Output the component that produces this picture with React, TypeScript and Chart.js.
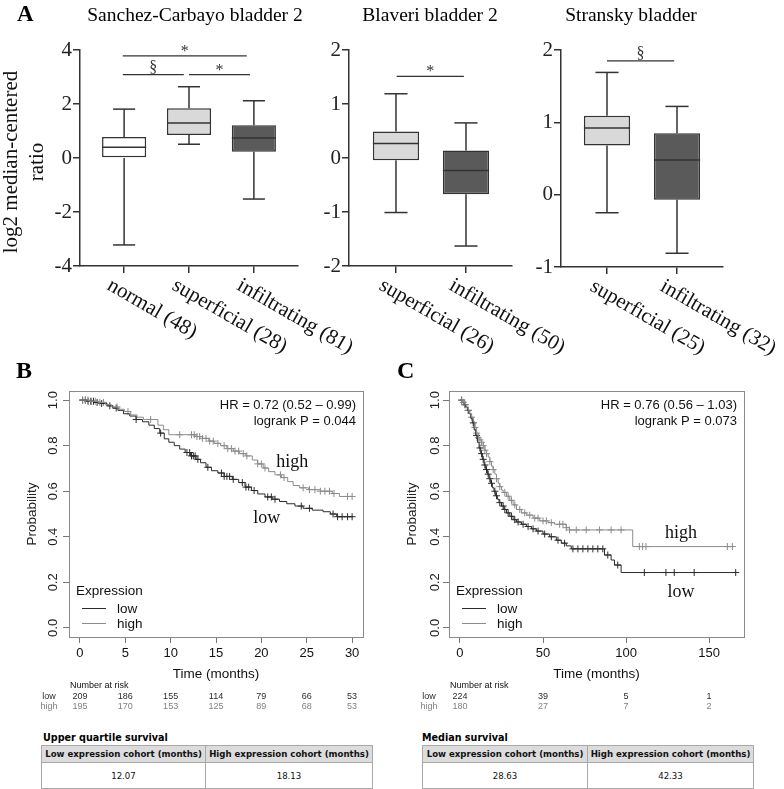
import React, { useEffect, useRef } from 'react';
import { Chart, registerables } from 'chart.js';
Chart.register(...registerables);

const SERIF = '"Liberation Serif", "Times New Roman", serif';
const SANS = '"Liberation Sans", Arial, sans-serif';
const VERD = '"DejaVu Sans", Verdana, sans-serif';

// ---------------- Panel A data ----------------
const sanchezCats = ['normal (48)', 'superficial (28)', 'infiltrating (81)'];
const sanchezMin = [-3.22, 0.51, -1.52];
const sanchezQ1 = [0.0, 0.85, 0.23];
const sanchezMed = [0.4, 1.3, 0.74];
const sanchezQ3 = [0.78, 1.84, 1.21];
const sanchezMax = [1.81, 2.64, 2.12];

const blaveriCats = ['superficial (26)', 'infiltrating (50)'];
const blaveriMin = [-1.01, -1.63];
const blaveriQ1 = [-0.04, -0.67];
const blaveriMed = [0.27, -0.23];
const blaveriQ3 = [0.49, 0.14];
const blaveriMax = [1.19, 0.65];

const stranskyCats = ['superficial (25)', 'infiltrating (32)'];
const stranskyMin = [-0.25, -0.81];
const stranskyQ1 = [0.68, -0.07];
const stranskyMed = [0.92, 0.48];
const stranskyQ3 = [1.09, 0.85];
const stranskyMax = [1.69, 1.22];

type Sig = { from: number; to: number; y: number; label: string };
const sanchezSig: Sig[] = [
  { from: -0.02, to: 1.89, y: 3.78, label: '*' },
  { from: -0.02, to: 0.92, y: 3.09, label: '§' },
  { from: 1.0, to: 1.94, y: 3.09, label: '*' },
];
const blaveriSig: Sig[] = [{ from: 0.01, to: 0.97, y: 1.51, label: '*' }];
const stranskySig: Sig[] = [{ from: 0.0, to: 0.96, y: 1.85, label: '§' }];

// ---------------- Panel B data ----------------
const kmBTicksX = [0, 5, 10, 15, 20, 25, 30];
const kmTicksY = [0, 0.2, 0.4, 0.6, 0.8, 1.0];
const kmBLowT = [0, 0.8, 1.6, 2.3, 3.0, 3.6, 4.2, 4.8, 5.5, 6.2, 6.9, 7.6, 8.2, 8.8, 9.3, 9.8, 10.4, 11.0, 11.6, 12.2, 12.8, 13.3, 13.9, 14.5, 15.2, 15.9, 16.8, 17.5, 18.2, 18.9, 19.6, 20.4, 21.2, 22.0, 22.8, 23.7, 24.6, 25.6, 26.8, 27.6, 28.3, 30.1];
const kmBLowS = [1.0, 0.995, 0.99, 0.985, 0.975, 0.965, 0.955, 0.94, 0.93, 0.915, 0.905, 0.89, 0.875, 0.855, 0.83, 0.815, 0.8, 0.785, 0.77, 0.755, 0.74, 0.725, 0.705, 0.69, 0.68, 0.665, 0.652, 0.638, 0.618, 0.603, 0.588, 0.575, 0.565, 0.555, 0.545, 0.535, 0.525, 0.517, 0.51, 0.5, 0.488, 0.488];
const kmBHighT = [0, 1.0, 2.0, 2.8, 3.5, 4.2, 4.9, 5.6, 6.3, 7.0, 8.6, 9.2, 9.8, 12.8, 13.5, 14.2, 14.8, 15.5, 16.2, 16.9, 17.6, 18.3, 19.0, 19.6, 20.2, 20.8, 21.5, 22.2, 22.9, 23.5, 24.2, 25.2, 26.5, 27.8, 28.6, 30.1];
const kmBHighS = [1.0, 0.995, 0.99, 0.98, 0.97, 0.96, 0.95, 0.935, 0.925, 0.915, 0.89, 0.87, 0.848, 0.84, 0.832, 0.82, 0.81, 0.8, 0.787, 0.776, 0.765, 0.755, 0.737, 0.72, 0.702, 0.686, 0.672, 0.66, 0.642, 0.625, 0.615, 0.607, 0.6, 0.59, 0.577, 0.577];
const kmBLowCens = [0.3, 0.6, 0.9, 1.2, 1.5, 1.9, 2.4, 3.3, 4.0, 6.2, 8.9, 11.8, 12.1, 12.3, 12.5, 12.7, 13.0, 14.1, 15.6, 15.9, 16.2, 16.5, 16.9, 17.9, 18.3, 18.6, 19.2, 20.7, 21.1, 21.5, 24.4, 25.3, 27.9, 28.4, 28.9, 29.5, 30.0];
const kmBHighCens = [0.3, 0.6, 0.9, 1.3, 1.7, 2.2, 2.6, 4.1, 5.3, 7.8, 11.0, 12.3, 12.6, 12.9, 13.2, 13.5, 13.9, 14.3, 14.7, 15.2, 15.9, 16.3, 16.7, 17.1, 17.5, 18.0, 18.4, 19.6, 20.0, 20.4, 22.1, 22.5, 24.6, 25.3, 25.9, 26.5, 27.0, 27.5, 28.0, 29.5, 30.0];
const kmBRiskLow = [209, 186, 155, 114, 79, 66, 53];
const kmBRiskHigh = [195, 170, 153, 125, 89, 68, 53];

// ---------------- Panel C data ----------------
const kmCTicksX = [0, 50, 100, 150];
const kmCLowT = [0, 1.5, 2.5, 3.5, 4.5, 5.5, 6.5, 7.5, 8.5, 9.5, 10.5, 11.5, 12.5, 13.5, 14.5, 15.5, 16.5, 17.5, 18.5, 19.5, 20.5, 21.5, 22.5, 23.5, 25, 26.5, 28, 30, 32, 34, 37, 40, 43, 46, 50, 54, 58, 61, 64, 67, 87, 91, 93, 97, 166];
const kmCLowS = [1.0, 0.99, 0.98, 0.97, 0.955, 0.94, 0.92, 0.9, 0.87, 0.845, 0.815, 0.79, 0.765, 0.74, 0.715, 0.695, 0.675, 0.655, 0.635, 0.615, 0.6, 0.58, 0.565, 0.55, 0.535, 0.52, 0.505, 0.49, 0.475, 0.465, 0.455, 0.445, 0.435, 0.425, 0.412, 0.4, 0.385, 0.372, 0.36, 0.347, 0.32, 0.298, 0.276, 0.243, 0.243];
const kmCHighT = [0, 1.5, 3, 4, 5, 6, 7, 8, 9, 10, 11, 12, 13, 14, 15, 16, 17, 18, 19, 20, 21, 22, 23, 24, 25, 26, 28, 30, 32, 34, 37, 40, 44, 48, 53, 57, 64, 66, 104, 165];
const kmCHighS = [1.0, 0.99, 0.98, 0.965, 0.955, 0.94, 0.925, 0.905, 0.88, 0.855, 0.835, 0.825, 0.815, 0.8, 0.78, 0.765, 0.75, 0.73, 0.71, 0.695, 0.675, 0.655, 0.635, 0.62, 0.605, 0.595, 0.578, 0.56, 0.54, 0.52, 0.505, 0.495, 0.482, 0.47, 0.462, 0.455, 0.44, 0.43, 0.357, 0.357];
const kmCLowCens = [1, 3, 5, 8, 10, 12, 13, 14, 15, 16, 17, 18, 19, 21, 22, 24, 26, 27, 29, 31, 33, 35, 38, 41, 44, 47, 51, 55, 59, 63, 68, 71, 74, 77, 80, 83, 86, 89, 95, 111, 124, 129, 141, 166];
const kmCHighCens = [1, 2, 3, 5, 7, 9, 10, 11, 12, 13, 14, 15, 16, 18, 20, 22, 24, 27, 29, 31, 33, 36, 39, 42, 45, 47, 50, 52, 55, 60, 62, 64, 66, 70, 76, 84, 91, 97, 108, 110, 112, 161, 164];
const kmCRiskLow = [224, 39, 5, 1];
const kmCRiskHigh = [180, 27, 7, 2];

const tableHeaders = ['Low expression cohort (months)', 'High expression cohort (months)'];
const bTableValues = ['12.07', '18.13'];
const cTableValues = ['28.63', '42.33'];

// ---------------- helpers ----------------
const LOW_COL = '#2b2b2b';
const HIGH_COL = '#8c8c8c';

function survAt(ts: number[], ss: number[], t: number) {
  let v = ss[0];
  for (let i = 0; i < ts.length; i++) if (ts[i] <= t) v = ss[i];
  return v;
}

type Area = { l: number; t: number; r: number; b: number };

type BoxCfg = {
  left: number; top: number; width: number; height: number; area: Area;
  cats: string[]; mins: number[]; q1s: number[]; meds: number[]; q3s: number[]; maxs: number[];
  fills: string[]; yMin: number; yMax: number; yStep: number; xMin: number; xMax: number;
  barPct: number; sig: Sig[]; yTitle?: boolean;
};

function makeBoxPlugin(c: BoxCfg) {
  return {
    id: 'boxExtras',
    afterDatasetsDraw(chart: any) {
      const { ctx, chartArea: a, scales } = chart;
      const x = scales.x, y = scales.y;
      const meta = chart.getDatasetMeta(0);
      ctx.save();
      ctx.strokeStyle = '#333';
      ctx.lineWidth = 1.5;
      const ln = (x1: number, y1: number, x2: number, y2: number) => {
        ctx.beginPath(); ctx.moveTo(x1, y1); ctx.lineTo(x2, y2); ctx.stroke();
      };
      c.cats.forEach((_, i) => {
        const bar = meta.data[i];
        const cx = x.getPixelForValue(i);
        const hw = bar.width / 2;
        const cap = hw / 2;
        const ym = y.getPixelForValue(c.meds[i]);
        ln(cx - hw, ym, cx + hw, ym);
        const yq3 = y.getPixelForValue(c.q3s[i]);
        const yq1 = y.getPixelForValue(c.q1s[i]);
        const ymax = y.getPixelForValue(c.maxs[i]);
        const ymin = y.getPixelForValue(c.mins[i]);
        ln(cx, yq3, cx, ymax);
        ln(cx - cap, ymax, cx + cap, ymax);
        ln(cx, yq1, cx, ymin);
        ln(cx - cap, ymin, cx + cap, ymin);
      });
      // significance bars
      ctx.lineWidth = 1.3;
      ctx.fillStyle = '#333';
      ctx.textAlign = 'center';
      ctx.textBaseline = 'alphabetic';
      ctx.font = `16px ${SERIF}`;
      c.sig.forEach((s) => {
        const x1 = x.getPixelForValue(s.from), x2 = x.getPixelForValue(s.to);
        const yy = y.getPixelForValue(s.y);
        ln(x1, yy, x2, yy);
        ctx.fillText(s.label, (x1 + x2) / 2, yy - (s.label === '*' ? 0 : 3));
      });
      // category labels rotated
      ctx.fillStyle = '#111';
      ctx.font = `21px ${SERIF}`;
      ctx.textAlign = 'left';
      ctx.textBaseline = 'top';
      c.cats.forEach((lab, i) => {
        const cx = x.getPixelForValue(i);
        ctx.save();
        ctx.translate(cx - 10, a.bottom + 9);
        ctx.rotate(Math.PI / 6);
        ctx.fillText(lab, 0, 0);
        ctx.restore();
      });
      if (c.yTitle) {
        ctx.font = `21px ${SERIF}`;
        ctx.textAlign = 'center';
        ctx.textBaseline = 'alphabetic';
        const cy = (a.top + a.bottom) / 2 + 4;
        ctx.save(); ctx.translate(17, cy); ctx.rotate(-Math.PI / 2); ctx.fillText('log2 median-centered', 0, 0); ctx.restore();
        ctx.save(); ctx.translate(43, cy); ctx.rotate(-Math.PI / 2); ctx.fillText('ratio', 0, 0); ctx.restore();
      }
      ctx.restore();
    },
  };
}

function BoxPanel(c: BoxCfg) {
  const ref = useRef<HTMLCanvasElement>(null);
  useEffect(() => {
    const axisCol = '#333';
    const chart = new Chart(ref.current as HTMLCanvasElement, {
      type: 'bar',
      data: {
        datasets: [
          {
            data: c.cats.map((_, i) => ({ x: i, y: [c.q1s[i], c.q3s[i]] })) as any,
            backgroundColor: c.fills,
            borderColor: '#333',
            borderWidth: 1.5,
            borderSkipped: false,
            barPercentage: c.barPct,
            categoryPercentage: 1,
          },
        ],
      },
      options: {
        animation: false,
        responsive: false,
        devicePixelRatio: 1,
        events: [],
        layout: { padding: { left: 0, top: c.area.t, right: c.width - c.area.r, bottom: 0 } },
        plugins: { legend: { display: false }, tooltip: { enabled: false } },
        scales: {
          x: {
            type: 'linear',
            min: c.xMin,
            max: c.xMax,
            offset: false,
            afterBuildTicks: (s: any) => { s.ticks = c.cats.map((_, i) => ({ value: i })); },
            afterFit: (s: any) => { s.height = c.height - c.area.b; },
            ticks: { display: false },
            grid: { offset: false, drawOnChartArea: false, drawTicks: true, tickLength: 7, color: axisCol, lineWidth: 1.5 },
            border: { display: true, color: axisCol, width: 1.5 },
          },
          y: {
            type: 'linear',
            min: c.yMin,
            max: c.yMax,
            afterBuildTicks: (s: any) => {
              const t = [];
              for (let v = c.yMin; v <= c.yMax + 1e-9; v += c.yStep) t.push({ value: v });
              s.ticks = t;
            },
            afterFit: (s: any) => { s.width = c.area.l; },
            ticks: { font: { family: SERIF, size: 21 }, color: '#222', padding: 1 },
            grid: { drawOnChartArea: false, drawTicks: true, tickLength: 7, color: axisCol, lineWidth: 1.5 },
            border: { display: true, color: axisCol, width: 1.5 },
          },
        },
      } as any,
      plugins: [makeBoxPlugin(c)],
    });
    return () => chart.destroy();
  }, []);
  return (
    <canvas
      ref={ref}
      width={c.width}
      height={c.height}
      style={{ position: 'absolute', left: c.left, top: c.top, width: c.width, height: c.height }}
    />
  );
}

type KmCfg = {
  left: number; top: number; width: number; height: number; area: Area;
  xMin: number; xMax: number; ticksX: number[];
  lowT: number[]; lowS: number[]; highT: number[]; highS: number[];
  lowCens: number[]; highCens: number[];
  riskLow: number[]; riskHigh: number[];
  hr: string; p: string;
  highLab: [number, number]; lowLab: [number, number];
  yLabOff: number;
};

function makeKmPlugin(c: KmCfg) {
  return {
    id: 'kmExtras',
    afterDraw(chart: any) {
      const { ctx, chartArea: a, scales } = chart;
      const x = scales.x, y = scales.y;
      ctx.save();
      ctx.strokeStyle = '#8a8a8a';
      ctx.lineWidth = 1;
      ctx.strokeRect(Math.round(a.left) + 0.5, Math.round(a.top) + 0.5, Math.round(a.right - a.left), Math.round(a.bottom - a.top));
      // y tick labels (rotated, R style)
      ctx.fillStyle = '#222';
      ctx.font = `13px ${SANS}`;
      ctx.textAlign = 'center';
      ctx.textBaseline = 'middle';
      kmTicksY.forEach((v) => {
        const py = y.getPixelForValue(v);
        ctx.save(); ctx.translate(a.left - c.yLabOff, py); ctx.rotate(-Math.PI / 2); ctx.fillText(v.toFixed(1), 0, 0); ctx.restore();
      });
      ctx.font = `13.5px ${SANS}`;
      ctx.save(); ctx.translate(a.left - 37, (a.top + a.bottom) / 2); ctx.rotate(-Math.PI / 2); ctx.fillText('Probability', 0, 0); ctx.restore();
      // HR text
      ctx.font = `13px ${SANS}`;
      ctx.fillStyle = '#111';
      ctx.textAlign = 'right';
      ctx.fillText(c.hr, a.right - 7, a.top + 14);
      ctx.fillText(c.p, a.right - 7, a.top + 30);
      // curve annotations
      ctx.font = `18px ${SERIF}`;
      ctx.textAlign = 'center';
      ctx.fillStyle = '#111';
      ctx.fillText('high', x.getPixelForValue(c.highLab[0]), y.getPixelForValue(c.highLab[1]));
      ctx.fillText('low', x.getPixelForValue(c.lowLab[0]), y.getPixelForValue(c.lowLab[1]));
      // legend
      ctx.font = `13.5px ${SANS}`;
      ctx.textAlign = 'left';
      ctx.fillStyle = '#111';
      ctx.fillText('Expression', a.left + 7, a.bottom - 46);
      ctx.fillText('low', a.left + 48, a.bottom - 28);
      ctx.fillText('high', a.left + 48, a.bottom - 13);
      ctx.lineWidth = 1;
      ctx.strokeStyle = LOW_COL;
      ctx.beginPath(); ctx.moveTo(a.left + 13, a.bottom - 28.5); ctx.lineTo(a.left + 37, a.bottom - 28.5); ctx.stroke();
      ctx.strokeStyle = HIGH_COL;
      ctx.beginPath(); ctx.moveTo(a.left + 13, a.bottom - 13.5); ctx.lineTo(a.left + 37, a.bottom - 13.5); ctx.stroke();
      // axis title
      ctx.fillStyle = '#111';
      ctx.font = `13.5px ${SANS}`;
      ctx.textAlign = 'center';
      ctx.fillText('Time (months)', (a.left + a.right) / 2, a.bottom + 37);
      // number at risk
      ctx.font = `9px ${SANS}`;
      ctx.textAlign = 'left';
      ctx.fillText('Number at risk', a.left + 1, a.bottom + 49);
      ctx.textAlign = 'center';
      ctx.fillStyle = LOW_COL;
      ctx.fillText('low', a.left - 20, a.bottom + 60);
      c.ticksX.forEach((t, i) => ctx.fillText(String(c.riskLow[i]), x.getPixelForValue(t), a.bottom + 60));
      ctx.fillStyle = '#808080';
      ctx.fillText('high', a.left - 20, a.bottom + 70);
      c.ticksX.forEach((t, i) => ctx.fillText(String(c.riskHigh[i]), x.getPixelForValue(t), a.bottom + 70));
      ctx.restore();
    },
  };
}

function KmPanel(c: KmCfg) {
  const ref = useRef<HTMLCanvasElement>(null);
  useEffect(() => {
    const pts = (ts: number[], ss: number[]) => ts.map((t, i) => ({ x: t, y: ss[i] }));
    const cens = (cs: number[], ts: number[], ss: number[]) => cs.map((t) => ({ x: t, y: survAt(ts, ss, t) }));
    const chart = new Chart(ref.current as HTMLCanvasElement, {
      type: 'line',
      data: {
        datasets: [
          { data: pts(c.highT, c.highS), borderColor: HIGH_COL, borderWidth: 1, stepped: true, pointRadius: 0, fill: false },
          { data: pts(c.lowT, c.lowS), borderColor: LOW_COL, borderWidth: 1, stepped: true, pointRadius: 0, fill: false },
          { data: cens(c.highCens, c.highT, c.highS), showLine: false, pointStyle: 'cross', pointRadius: 3.5, borderColor: HIGH_COL, borderWidth: 1 },
          { data: cens(c.lowCens, c.lowT, c.lowS), showLine: false, pointStyle: 'cross', pointRadius: 3.5, borderColor: LOW_COL, borderWidth: 1 },
        ] as any,
      },
      options: {
        animation: false,
        responsive: false,
        devicePixelRatio: 1,
        events: [],
        layout: { padding: { left: 0, top: c.area.t, right: c.width - c.area.r, bottom: 0 } },
        plugins: { legend: { display: false }, tooltip: { enabled: false } },
        scales: {
          x: {
            type: 'linear',
            min: c.xMin,
            max: c.xMax,
            afterBuildTicks: (s: any) => { s.ticks = c.ticksX.map((v) => ({ value: v })); },
            afterFit: (s: any) => { s.height = c.height - c.area.b; },
            ticks: { font: { family: SANS, size: 13 }, color: '#111', padding: 3, maxRotation: 0, autoSkip: false },
            grid: { drawOnChartArea: false, drawTicks: true, tickLength: 6, color: '#777' },
            border: { display: false },
          },
          y: {
            type: 'linear',
            min: -0.04,
            max: 1.04,
            afterBuildTicks: (s: any) => { s.ticks = kmTicksY.map((v) => ({ value: v })); },
            afterFit: (s: any) => { s.width = c.area.l; },
            ticks: { display: false },
            grid: { drawOnChartArea: false, drawTicks: true, tickLength: 6, color: '#777' },
            border: { display: false },
          },
        },
      } as any,
      plugins: [makeKmPlugin(c)],
    });
    return () => chart.destroy();
  }, []);
  return (
    <canvas
      ref={ref}
      width={c.width}
      height={c.height}
      style={{ position: 'absolute', left: c.left, top: c.top, width: c.width, height: c.height }}
    />
  );
}

function Txt(p: { x: number; y: number; size: number; family: string; weight?: number; align?: 'left' | 'center' | 'right'; color?: string; text: string }) {
  const ratio = p.family === SERIF ? 0.8375 : 0.8465;
  const top = p.y - ratio * p.size;
  const align = p.align || 'left';
  const left = align === 'left' ? p.x : align === 'center' ? p.x - 300 : p.x - 600;
  return (
    <div
      style={{
        position: 'absolute', top, left, width: align === 'left' ? undefined : 600, textAlign: align,
        fontFamily: p.family, fontSize: p.size, fontWeight: p.weight || 400, lineHeight: `${p.size}px`,
        whiteSpace: 'nowrap', color: p.color || '#000',
      }}
    >
      {p.text}
    </div>
  );
}

function SurvTable(p: { left: number; top: number; w1: number; w2: number; values: string[] }) {
  const cell = (w: number, h: number, bold: boolean, bg: string, txt: string, bl: boolean) => (
    <div
      style={{
        width: w, height: h, boxSizing: 'border-box', background: bg,
        borderLeft: bl ? '1px solid #a8a8a8' : 'none', display: 'flex', alignItems: 'center', justifyContent: 'center',
        fontFamily: VERD, fontSize: 8.6, fontWeight: bold ? 700 : 400, color: '#111', whiteSpace: 'nowrap',
      }}
    >
      {txt}
    </div>
  );
  return (
    <div style={{ position: 'absolute', left: p.left, top: p.top, border: '1px solid #a8a8a8', background: '#fff' }}>
      <div style={{ display: 'flex', borderBottom: '1px solid #a8a8a8' }}>
        {cell(p.w1, 16, true, '#dcdcdc', tableHeaders[0], false)}
        {cell(p.w2, 16, true, '#dcdcdc', tableHeaders[1], true)}
      </div>
      <div style={{ display: 'flex' }}>
        {cell(p.w1, 25, false, '#fff', p.values[0], false)}
        {cell(p.w2, 25, false, '#fff', p.values[1], true)}
      </div>
    </div>
  );
}

export default function App() {
  return (
    <div style={{ position: 'absolute', left: 0, top: 0, width: 784, height: 789, background: '#fff', overflow: 'hidden' }}>
      <BoxPanel
        left={0} top={0} width={370} height={372} area={{ l: 80, t: 50, r: 298, b: 266 }}
        cats={sanchezCats} mins={sanchezMin} q1s={sanchezQ1} meds={sanchezMed} q3s={sanchezQ3} maxs={sanchezMax}
        fills={['#ffffff', '#d9d9d9', '#5a5a5a']} yMin={-4} yMax={4} yStep={2} xMin={-0.68} xMax={2.68}
        barPct={0.68} sig={sanchezSig} yTitle
      />
      <BoxPanel
        left={300} top={0} width={290} height={372} area={{ l: 49, t: 50, r: 212, b: 266 }}
        cats={blaveriCats} mins={blaveriMin} q1s={blaveriQ1} meds={blaveriMed} q3s={blaveriQ3} maxs={blaveriMax}
        fills={['#d9d9d9', '#5a5a5a']} yMin={-2} yMax={2} yStep={1} xMin={-0.671} xMax={1.657}
        barPct={0.66} sig={blaveriSig}
      />
      <BoxPanel
        left={520} top={0} width={264} height={372} area={{ l: 41, t: 50, r: 203, b: 267 }}
        cats={stranskyCats} mins={stranskyMin} q1s={stranskyQ1} meds={stranskyMed} q3s={stranskyQ3} maxs={stranskyMax}
        fills={['#d9d9d9', '#5a5a5a']} yMin={-1} yMax={2} yStep={1} xMin={-0.657} xMax={1.657}
        barPct={0.66} sig={stranskySig}
      />
      <KmPanel
        left={0} top={380} width={392} height={335} area={{ l: 69, t: 11, r: 363, b: 257 }}
        xMin={-1.2} xMax={31.2} ticksX={kmBTicksX}
        lowT={kmBLowT} lowS={kmBLowS} highT={kmBHighT} highS={kmBHighS}
        lowCens={kmBLowCens} highCens={kmBHighCens} riskLow={kmBRiskLow} riskHigh={kmBRiskHigh}
        hr="HR = 0.72 (0.52 – 0.99)" p="logrank P = 0.044"
        highLab={[23.4, 0.728]} lowLab={[20.6, 0.483]} yLabOff={16}
      />
      <KmPanel
        left={392} top={380} width={392} height={335} area={{ l: 57, t: 11, r: 352, b: 257 }}
        xMin={-6.6} xMax={171} ticksX={kmCTicksX}
        lowT={kmCLowT} lowS={kmCLowS} highT={kmCHighT} highS={kmCHighS}
        lowCens={kmCLowCens} highCens={kmCHighCens} riskLow={kmCRiskLow} riskHigh={kmCRiskHigh}
        hr="HR = 0.76 (0.56 – 1.03)" p="logrank P = 0.073"
        highLab={[133, 0.417]} lowLab={[133, 0.158]} yLabOff={14}
      />
      <Txt x={17} y={21} size={23} family={SERIF} weight={700} text="A" />
      <Txt x={16} y={378} size={24} family={SERIF} weight={700} text="B" />
      <Txt x={397} y={378} size={24} family={SERIF} weight={700} text="C" />
      <Txt x={195} y={21} size={19.5} family={SERIF} align="center" text="Sanchez-Carbayo bladder 2" />
      <Txt x={430} y={21} size={19.5} family={SERIF} align="center" text="Blaveri bladder 2" />
      <Txt x={631} y={21} size={19.5} family={SERIF} align="center" text="Stransky bladder" />
      <Txt x={43} y={741} size={9.6} family={VERD} weight={700} text="Upper quartile survival" />
      <Txt x={422} y={741} size={9.6} family={VERD} weight={700} text="Median survival" />
      <SurvTable left={41} top={745} w1={163} w2={167} values={bTableValues} />
      <SurvTable left={422} top={745} w1={164} w2={166} values={cTableValues} />
    </div>
  );
}
